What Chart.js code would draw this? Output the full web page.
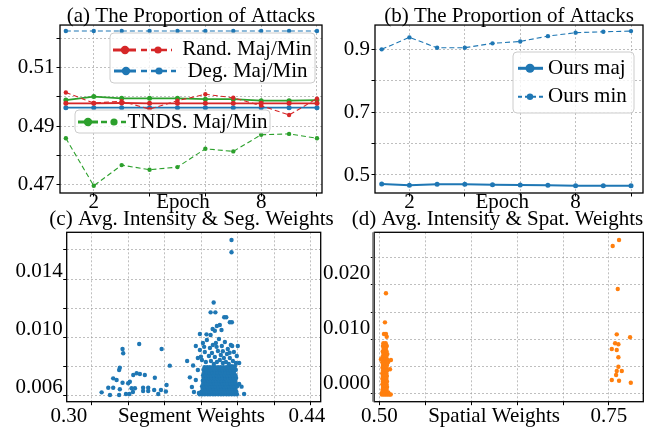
<!DOCTYPE html>
<html><head><meta charset="utf-8">
<script src="https://cdn.jsdelivr.net/npm/chart.js@4/dist/chart.umd.min.js"></script>
<style>
html,body{margin:0;padding:0;background:#fff;}
#wrap{position:relative;width:664px;height:431px;overflow:hidden;background:#fff;}
canvas{position:absolute;}
</style></head><body>
<div id="wrap">
<canvas id="ca" width="332" height="215" style="left:0;top:0"></canvas>
<canvas id="cb" width="334" height="215" style="left:330px;top:0"></canvas>
<canvas id="cc" width="383" height="231" style="left:0;top:200px"></canvas>
<canvas id="cd" width="351" height="231" style="left:322px;top:200px"></canvas>
</div>
<script>
// ---------------- data ----------------
const epochs = [1,2,3,4,5,6,7,8,9,10];
const randMaj = [0.4978,0.4978,0.4979,0.4978,0.4978,0.4978,0.4978,0.4978,0.4978,0.4978];
const randMin = [0.5015,0.4979,0.4985,0.4958,0.4987,0.5009,0.4997,0.4970,0.4938,0.4994];
const degMaj  = [0.4963,0.4963,0.4963,0.4963,0.4963,0.4963,0.4963,0.4963,0.4963,0.4963];
const degMin  = [0.5226,0.5226,0.5226,0.5226,0.5226,0.5226,0.5226,0.5226,0.5226,0.5226];
const tndsMaj = [0.4989,0.5001,0.4995,0.4995,0.4995,0.4992,0.4992,0.4987,0.4987,0.4989];
const tndsMin = [0.4858,0.4695,0.4766,0.4750,0.4759,0.4822,0.4813,0.4870,0.4873,0.4858];
const oursMaj = [0.4714,0.4672,0.4704,0.4704,0.4691,0.4682,0.4672,0.4660,0.4660,0.4660];
const oursMin = [0.900,0.938,0.905,0.905,0.919,0.925,0.942,0.953,0.956,0.958];

const titles = ['(a) The Proportion of Attacks','(b) The Proportion of Attacks',
  '(c) Avg. Intensity & Seg. Weights','(d) Avg. Intensity & Spat. Weights'];
const legendA = ['Rand. Maj/Min','Deg. Maj/Min','TNDS. Maj/Min'];
const legendB = ['Ours maj','Ours min'];

// tick values and labels
const aYTicks = [0.47,0.48,0.49,0.50,0.51,0.52];
const aYLabels = ['0.47','','0.49','','0.51',''];
const bYTicks = [0.5,0.6,0.7,0.8,0.9];
const bYLabels = ['0.5','','0.7','','0.9'];
const epochTicksA = [2,4,5.2,6,8,10];
const epochTicksB = [2,4,5.35,6,8,10];
const epochLabels = ['2','','Epoch','','8',''];
const epochGrid = [1,1,0,1,1,1];
const cYTicks = [0.006,0.008,0.010,0.012,0.014,0.016];
const cYLabels = ['0.006','','0.010','','0.014',''];
const cXTicks = [0.30,0.3134,0.3348,0.3563,0.372,0.3778,0.3992,0.4207,0.44,0.4421];
const cXLabels = ['0.30','','','','Segment Weights','','','','0.44',''];
const cXGrid = [0,1,1,1,0,1,1,1,0,1];
const dYTicks = [0,0.005,0.010,0.015,0.020,0.025];
const dYLabels = ['0.000','','0.010','','0.020',''];
const dXTicks = [0.50,0.55,0.60,0.625,0.65,0.70,0.75];
const dXLabels = ['0.50','','','Spatial Weights','','','0.75'];
const dXGrid = [1,1,1,0,1,1,1];

// (c) segment weights vs avg intensity: dense rows [y, [x...]]
const segDenseRows = [
 [0.00610,[0.3768,0.3784,0.3799,0.3816,0.3830,0.3847,0.3861,0.3878,0.3894,0.3909,0.3926,0.3941,0.3957,0.3973,0.3988]],
 [0.00628,[0.3779,0.3795,0.3811,0.3826,0.3843,0.3857,0.3874,0.3890,0.3905,0.3921,0.3937,0.3952,0.3969,0.3984]],
 [0.00647,[0.3786,0.3802,0.3819,0.3834,0.3851,0.3866,0.3882,0.3898,0.3913,0.3930,0.3946,0.3961,0.3978]],
 [0.00665,[0.3783,0.3798,0.3814,0.3831,0.3846,0.3862,0.3879,0.3894,0.3910,0.3925,0.3942,0.3958,0.3973,0.3989]],
 [0.00684,[0.3790,0.3805,0.3822,0.3837,0.3854,0.3869,0.3885,0.3902,0.3917,0.3933,0.3950,0.3965,0.3981]],
 [0.00703,[0.3787,0.3803,0.3818,0.3835,0.3850,0.3866,0.3883,0.3898,0.3914,0.3929,0.3946,0.3962,0.3977]],
 [0.00721,[0.3792,0.3808,0.3824,0.3839,0.3856,0.3871,0.3888,0.3904,0.3919,0.3936,0.3951,0.3967,0.3983]],
 [0.00740,[0.3789,0.3806,0.3821,0.3837,0.3853,0.3869,0.3885,0.3900,0.3917,0.3932,0.3948,0.3964,0.3979]],
 [0.00758,[0.3795,0.3811,0.3827,0.3842,0.3859,0.3874,0.3890,0.3907,0.3922,0.3938,0.3954,0.3970]],
 [0.00777,[0.3792,0.3809,0.3824,0.3840,0.3856,0.3872,0.3888,0.3903,0.3920,0.3935,0.3951,0.3967,0.3981]],
 [0.00795,[0.3797,0.3813,0.3829,0.3845,0.3860,0.3877,0.3893,0.3908,0.3925,0.3940,0.3956,0.3972]]
];
const segSparse = [
 [0.3788,0.00962],[0.3811,0.00982],[0.3829,0.00927],[0.3846,0.00948],[0.3864,0.00962],[0.3882,0.00989],
 [0.3899,0.00941],[0.3917,0.00968],[0.3934,0.00920],[0.3952,0.00948],[0.3970,0.00900],[0.3987,0.00872],
 [0.3799,0.00900],[0.3823,0.00872],[0.3841,0.00893],[0.3858,0.00865],[0.3876,0.00907],[0.3893,0.00879],
 [0.3911,0.00859],[0.3929,0.00886],[0.3946,0.00859],[0.3964,0.00838],[0.3982,0.00824],[0.3782,0.00845],
 [0.3805,0.00831],[0.3835,0.00838],[0.3852,0.00817],[0.3870,0.00831],[0.3887,0.00845],[0.3905,0.00824],
 [0.3923,0.00831],[0.3940,0.00817],[0.3958,0.00803],[0.3976,0.00803],[0.3758,0.00859],[0.3770,0.00914],
 [0.3993,0.00941],[0.3795,0.00935],[0.3905,0.00905],[0.3945,0.00895],[0.3868,0.00935],
 [0.3746,0.00941],[0.3770,0.01023],[0.3809,0.01021],[0.3833,0.01016],[0.3845,0.01058],[0.3858,0.01046],
 [0.3897,0.01051],[0.3870,0.01078],[0.3887,0.01085],[0.3913,0.01138],[0.3925,0.01138],[0.3946,0.01104],
 [0.3958,0.01104],[0.3833,0.01172],[0.3861,0.01172],[0.3851,0.01239],[0.3956,0.01584],[0.3956,0.01668],
 [0.3730,0.00807],[0.4001,0.00824],[0.3960,0.00941],[0.3776,0.00868],[0.3695,0.00838],[0.3711,0.00726],
 [0.4001,0.00680],[0.4015,0.00662],[0.4030,0.00612],[0.3723,0.00660],[0.3735,0.00625],[0.3746,0.00708],
 [0.3758,0.00776],[0.3764,0.00619],
 [0.3192,0.00623],[0.3231,0.00655],[0.3260,0.00655],[0.3241,0.00605],[0.3260,0.00719],[0.3280,0.00708],
 [0.3299,0.00644],[0.3295,0.00605],[0.3315,0.00689],[0.3319,0.00891],[0.3315,0.00920],[0.3295,0.00776],
 [0.3299,0.00792],[0.3348,0.00685],[0.3358,0.00696],[0.3335,0.00612],[0.3355,0.00612],[0.3368,0.00651],
 [0.3378,0.00742],[0.3398,0.00754],[0.3417,0.00749],[0.3446,0.00742],[0.3413,0.00955],[0.3388,0.00651],
 [0.3436,0.00655],[0.3466,0.00655],[0.3436,0.00632],[0.3466,0.00632],[0.3505,0.00723],[0.3501,0.00639],
 [0.3541,0.00639],[0.3525,0.00612],[0.3545,0.00920],[0.3570,0.00629],[0.3574,0.00673],[0.3593,0.00806],
 [0.3376,0.00625]
];

// (d) spatial weights vs avg intensity
const spatDenseRows = [
 [0.0093,[0.5045,0.5070]],
 [0.0088,[0.5040,0.5062,0.5082]],
 [0.0083,[0.5048,0.5072]],
 [0.0078,[0.5038,0.5058,0.5080]],
 [0.0073,[0.5044,0.5068,0.5088]],
 [0.0068,[0.5036,0.5056,0.5078]],
 [0.0063,[0.5042,0.5064,0.5086]],
 [0.0058,[0.5034,0.5055,0.5077,0.5095]],
 [0.0053,[0.5040,0.5062,0.5084]],
 [0.0048,[0.5035,0.5057,0.5079]],
 [0.0043,[0.5041,0.5063,0.5085]],
 [0.0038,[0.5033,0.5055,0.5077]],
 [0.0033,[0.5039,0.5061,0.5083]],
 [0.0028,[0.5034,0.5056,0.5078]],
 [0.0023,[0.5040,0.5062,0.5084]],
 [0.0018,[0.5035,0.5057,0.5079]],
 [0.0013,[0.5041,0.5063,0.5085]],
 [0.0008,[0.5036,0.5058,0.5080]],
 [0.0003,[0.5032,0.5054,0.5076,0.5098]],
 [-0.0001,[0.5028,0.5048,0.5068,0.5088,0.5108,0.5125]]
];
const spatSparse = [
 [0.5073,0.01843],[0.5062,0.01312],[0.5051,0.01098],[0.5073,0.01098],[0.5081,0.01049],
 [0.5127,0.00622],[0.5117,0.00452],[0.5019,0.00635],
 [0.7610,0.02818],[0.7541,0.02708],[0.7596,0.01922],[0.7585,0.01092],[0.7730,0.01038],
 [0.7567,0.00928],[0.7603,0.00910],[0.7531,0.00824],[0.7585,0.00805],[0.7603,0.00672],
 [0.7603,0.00500],[0.7640,0.00421],[0.7585,0.00421],[0.7578,0.00348],[0.7531,0.00256],
 [0.7610,0.00243],[0.7738,0.00207]
];

// ---------------- styling / helpers ----------------
const FONT = "'Liberation Serif','Times New Roman',serif";
Chart.defaults.font.family = FONT;
Chart.defaults.font.size = 21;
Chart.defaults.color = '#000';
const GRID = 'rgba(160,160,160,0.85)';
const RED = '#d62728', BLUE = '#1f77b4', GREEN = '#2ca02c', ORANGE = '#ff7f0e';

function mkScale(o) {
  const on = i => (o.grid ? o.grid[i] : 1);
  return {
    type: 'linear', min: o.min, max: o.max,
    position: o.horizontal ? 'bottom' : 'left',
    afterBuildTicks: s => { s.ticks = o.ticks.map(v => ({value: v})); },
    afterFit: s => { if (o.horizontal) s.height = o.size; else s.width = o.size; },
    ticks: {
      autoSkip: false, maxRotation: 0, minRotation: 0, padding: o.pad,
      labelOffset: o.labelOffset || 0, color: '#000',
      font: {size: 21, lineHeight: o.horizontal ? 1 : 1.2},
      callback: (v, i) => o.labels[i]
    },
    grid: {
      color: c => on(c.index) ? GRID : 'rgba(0,0,0,0)',
      tickColor: c => on(c.index) ? '#000' : 'rgba(0,0,0,0)',
      lineWidth: 0.8, tickLength: 3.5, tickWidth: 1, drawTicks: true
    },
    border: {display: false, dash: [2, 2]}
  };
}
// invisible right-hand spacer axis (keeps the full-width title centred like the original)
const spacer = w => ({
  type: 'linear', position: 'right', display: true, min: 0, max: 1,
  afterFit: s => { s.width = w; },
  ticks: {display: false}, grid: {display: false, drawTicks: false}, border: {display: false}
});

function spines(opt) {
  return {
    id: 'spines',
    afterDatasetsDraw(chart) {
      const {ctx, chartArea: a} = chart;
      ctx.save();
      ctx.strokeStyle = '#000'; ctx.lineWidth = 1.3;
      ctx.strokeRect(a.left, a.top, a.right - a.left, a.bottom - a.top);
      if (opt && opt.leftColor) {
        ctx.strokeStyle = opt.leftColor; ctx.lineWidth = opt.leftWidth;
        ctx.beginPath(); ctx.moveTo(a.left - 1, a.top); ctx.lineTo(a.left - 1, a.bottom); ctx.stroke();
      }
      ctx.restore();
    }
  };
}

function boxLegend(boxes) {
  return {
    id: 'boxLegend',
    afterDraw(chart) {
      const ctx = chart.ctx;
      boxes.forEach(b => {
        ctx.save();
        ctx.beginPath();
        if (ctx.roundRect) ctx.roundRect(b.x, b.y, b.w, b.h, 4); else ctx.rect(b.x, b.y, b.w, b.h);
        ctx.fillStyle = 'rgba(255,255,255,0.8)'; ctx.fill();
        ctx.strokeStyle = '#cccccc'; ctx.lineWidth = 1; ctx.stroke();
        b.rows.forEach(r => {
          r.handles.forEach(h => {
            const ds = chart.data.datasets[h.ds];
            ctx.strokeStyle = ds.borderColor; ctx.lineWidth = h.lw;
            ctx.setLineDash(h.dash || []);
            ctx.beginPath(); ctx.moveTo(h.x1, r.ly); ctx.lineTo(h.x2, r.ly); ctx.stroke();
            ctx.setLineDash([]);
            ctx.fillStyle = ds.borderColor;
            ctx.beginPath(); ctx.arc(h.dot, r.ly, h.r, 0, Math.PI * 2); ctx.fill();
          });
          ctx.fillStyle = '#000'; ctx.font = '21px ' + FONT;
          ctx.textAlign = r.align; ctx.textBaseline = 'alphabetic';
          ctx.fillText(r.text, r.tx, r.by);
        });
        ctx.restore();
      });
    }
  };
}

const xy = arr => epochs.map((e, i) => ({x: e, y: arr[i]}));
const lineDs = (label, arr, color, dashed) => ({
  label, data: xy(arr), borderColor: color, backgroundColor: color,
  pointBackgroundColor: color, pointBorderWidth: 0,
  borderWidth: dashed ? 1.1 : 1.8, borderDash: dashed ? [5, 3] : [],
  pointRadius: dashed ? 2.2 : 2.5, tension: 0, fill: false
});
const titleCfg = (text, lh, padTop, full) => ({
  display: true, text, color: '#000', fullSize: full,
  font: {size: 21, lineHeight: lh, weight: 'normal'}, padding: {top: padTop, bottom: 0}
});
const base = {responsive: false, animation: false, devicePixelRatio: 1,
  events: []};

// ---------------- (a) ----------------
new Chart(document.getElementById('ca'), {
  type: 'line',
  data: {datasets: [
    lineDs('Rand. Maj', randMaj, RED, false),
    lineDs('Rand. Min', randMin, RED, true),
    lineDs('Deg. Maj', degMaj, BLUE, false),
    lineDs('Deg. Min', degMin, BLUE, true),
    lineDs('TNDS. Maj', tndsMaj, GREEN, false),
    lineDs('TNDS. Min', tndsMin, GREEN, true)
  ]},
  options: Object.assign({}, base, {
    layout: {padding: {left: 0, right: 10, top: 0, bottom: 0}},
    plugins: {legend: {display: false}, tooltip: {enabled: false},
      title: titleCfg(titles[0], 0.84, 7.4, false)},
    scales: {
      x: mkScale({horizontal: true, min: 0.79, max: 10.18, ticks: epochTicksA, labels: epochLabels,
        grid: epochGrid, size: 22, pad: -4.8}),
      y: mkScale({min: 0.46702, max: 0.52465, ticks: aYTicks, labels: aYLabels, size: 60, pad: 2})
    }
  }),
  plugins: [spines(), boxLegend([
    {x: 110, y: 33, w: 205, h: 50, rows: [
      {text: legendA[0], tx: 247, align: 'center', by: 55, ly: 50, handles: [
        {ds: 0, x1: 113, x2: 136, dot: 125, r: 4.2, lw: 3},
        {ds: 1, x1: 141, x2: 172, dot: 158, r: 3.6, lw: 2.5, dash: [6, 4]}]},
      {text: legendA[1], tx: 247.5, align: 'center', by: 77.3, ly: 71, handles: [
        {ds: 2, x1: 114, x2: 136, dot: 126, r: 4.2, lw: 3},
        {ds: 3, x1: 141, x2: 176, dot: 159, r: 3.6, lw: 2.5, dash: [6, 4]}]}
    ]},
    {x: 75, y: 110, w: 195, h: 23, rows: [
      {text: legendA[2], tx: 197.5, align: 'center', by: 128.3, ly: 122, handles: [
        {ds: 4, x1: 78, x2: 98, dot: 88, r: 4.2, lw: 3},
        {ds: 5, x1: 101, x2: 126, dot: 114, r: 3.6, lw: 2.5, dash: [6, 4]}]}
    ]}
  ])]
});

// ---------------- (b) ----------------
new Chart(document.getElementById('cb'), {
  type: 'line',
  data: {datasets: [
    Object.assign(lineDs('Ours maj', oursMaj, BLUE, false), {borderWidth: 2}),
    lineDs('Ours min', oursMin, BLUE, true)
  ]},
  options: Object.assign({}, base, {
    layout: {padding: {left: 0, right: 21, top: 0, bottom: 0}},
    plugins: {legend: {display: false}, tooltip: {enabled: false},
      title: titleCfg(titles[1], 0.84, 7.4, false)},
    scales: {
      x: mkScale({horizontal: true, min: 0.758, max: 10.433, ticks: epochTicksB, labels: epochLabels,
        grid: epochGrid, size: 22, pad: -4.8}),
      y: mkScale({min: 0.4427, max: 0.9773, ticks: bYTicks, labels: bYLabels, size: 45, pad: 1.5})
    }
  }),
  plugins: [spines(), boxLegend([
    {x: 183, y: 52, w: 121, h: 61, rows: [
      {text: legendB[0], tx: 218, align: 'left', by: 74, ly: 68.3, handles: [
        {ds: 0, x1: 188, x2: 213, dot: 200, r: 4.5, lw: 3}]},
      {text: legendB[1], tx: 218, align: 'left', by: 101.7, ly: 96.7, handles: [
        {ds: 1, x1: 188, x2: 213, dot: 200, r: 3.2, lw: 2, dash: [4, 3]}]}
    ]}
  ])]
});

// ---------------- (c) ----------------
const segPts = segDenseRows.flatMap(([y, xs]) => xs.map(x => ({x, y})))
  .concat(segSparse.map(([x, y]) => ({x, y})));
new Chart(document.getElementById('cc'), {
  type: 'scatter',
  data: {datasets: [{label: 'Seg', data: segPts, backgroundColor: BLUE, borderWidth: 0,
    pointRadius: 2.2}]},
  options: Object.assign({}, base, {
    layout: {padding: {left: 0, right: 0, top: 0, bottom: 0}},
    plugins: {legend: {display: false}, tooltip: {enabled: false},
      title: titleCfg(titles[2], 1.2095, 6.9, true)},
    scales: {
      x: mkScale({horizontal: true, min: 0.29865, max: 0.44806, ticks: cXTicks, labels: cXLabels,
        grid: cXGrid, size: 29.3, pad: 1.2}),
      y: mkScale({min: 0.005588, max: 0.017211, ticks: cYTicks, labels: cYLabels, size: 66.7,
        pad: 0.5, labelOffset: -8}),
      pad: spacer(62.3)
    }
  }),
  plugins: [spines()]
});

// ---------------- (d) ----------------
const spatPts = spatDenseRows.flatMap(([y, xs]) => xs.map(x => ({x, y})))
  .concat(spatSparse.map(([x, y]) => ({x, y})));
new Chart(document.getElementById('cd'), {
  type: 'scatter',
  data: {datasets: [{label: 'Spat', data: spatPts, backgroundColor: ORANGE, borderWidth: 0,
    pointRadius: 2.2}]},
  options: Object.assign({}, base, {
    layout: {padding: {left: 0, right: 0, top: 0, bottom: 0}},
    plugins: {legend: {display: false}, tooltip: {enabled: false},
      title: titleCfg(titles[3], 1.2095, 6.9, true)},
    scales: {
      x: mkScale({horizontal: true, min: 0.4946, max: 0.7874, ticks: dXTicks, labels: dXLabels,
        grid: dXGrid, size: 29.3, pad: 1.2}),
      y: mkScale({min: -0.00141, max: 0.0296, ticks: dYTicks, labels: dYLabels, size: 52.3,
        pad: 0.5, labelOffset: -11}),
      pad: spacer(29.7)
    }
  }),
  plugins: [spines({leftColor: '#777', leftWidth: 2.2})]
});
</script>
</body></html>
